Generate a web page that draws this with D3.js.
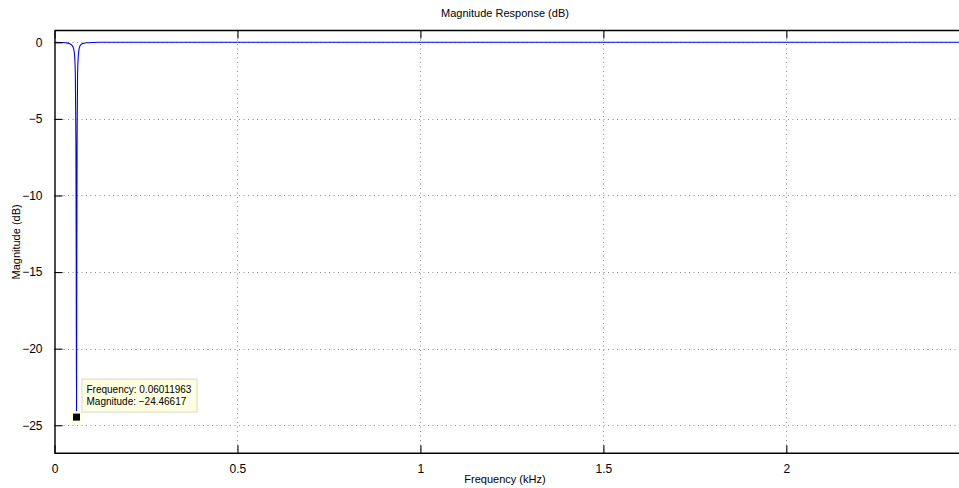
<!DOCTYPE html>
<html>
<head>
<meta charset="utf-8">
<script src="https://cdn.jsdelivr.net/npm/d3@7"></script>
<style>
  html, body { margin: 0; padding: 0; background: #fff; }
  svg { display: block; font-family: "Liberation Sans", Arial, Helvetica, sans-serif; }
</style>
</head>
<body>
<svg id="chart" width="959" height="488"></svg>
<script>
// ---- data ----
const freqKHz = [0, 0.02, 0.03, 0.04, 0.048, 0.052, 0.055, 0.057, 0.0585, 0.05935, 0.06012, 0.0609, 0.0617, 0.063, 0.065, 0.068, 0.072, 0.08, 0.09, 0.12, 0.5, 1, 1.5, 2, 2.5];
const magDB   = [0, -0.01, -0.03, -0.08, -0.2, -0.4, -0.9, -2.2, -6.5, -14, -24.46617, -14, -6.5, -2.2, -0.9, -0.35, -0.15, -0.06, -0.03, 0, 0, 0, 0, 0, 0];
const xTicks = [0, 0.5, 1, 1.5, 2];
const yTicks = [0, -5, -10, -15, -20, -25];
const tipFreq = 0.06011963;
const tipMag = -24.46617;
const tipLines = ["Frequency: 0.06011963", "Magnitude: \u221224.46617"];
const titleText = "Magnitude Response (dB)";
const xLabelText = "Frequency (kHz)";
const yLabelText = "Magnitude (dB)";

(function () {
const svg = d3.select("#chart");
const pL = 54.5, pR = 969.3, pT = 30.5, pB = 453.3;

const x = d3.scaleLinear().domain([0, 2.5]).range([pL, pR]);
const y = d3.scaleLinear().domain([-26.83, 0.77]).range([pB, pT]);

// grid
const grid = svg.append("g").attr("stroke", "#8a8a8a").attr("stroke-width", 1)
  .attr("stroke-dasharray", "1,3.5");
grid.selectAll("line.v").data(xTicks.filter(d => d > 0)).enter().append("line")
  .attr("x1", d => Math.round(x(d)) + 0.5).attr("x2", d => Math.round(x(d)) + 0.5)
  .attr("y1", pT).attr("y2", pB);
grid.selectAll("line.h").data(yTicks).enter().append("line")
  .attr("x1", pL).attr("x2", 959)
  .attr("y1", d => Math.round(y(d)) + 0.5).attr("y2", d => Math.round(y(d)) + 0.5);

// curve
const line = d3.line().x((d, i) => x(freqKHz[i])).y(d => y(d)).curve(d3.curveMonotoneX);
svg.append("path").datum(magDB)
  .attr("d", line)
  .attr("fill", "none")
  .attr("stroke", "#0000ff")
  .attr("stroke-width", 1.1);

// axes
const fmt = d => d3.format("")(d).replace("-", "\u2212");
const axB = svg.append("g").attr("transform", `translate(0,${pB})`)
  .call(d3.axisBottom(x).tickValues(xTicks).tickSizeInner(-8).tickSizeOuter(0).tickPadding(11).tickFormat(fmt));
const axT = svg.append("g").attr("transform", `translate(0,${pT})`)
  .call(d3.axisTop(x).tickValues(xTicks).tickSizeInner(-8).tickSizeOuter(0).tickFormat(""));
const axL = svg.append("g").attr("transform", `translate(${pL},0)`)
  .call(d3.axisLeft(y).tickValues(yTicks).tickSizeInner(-8).tickSizeOuter(0).tickPadding(12).tickFormat(fmt));
[axB, axT, axL].forEach(a => {
  a.select(".domain").attr("stroke", "#000").attr("stroke-width", 1.4);
  a.selectAll(".tick line").attr("stroke", "#000").attr("stroke-width", 1.1);
  a.selectAll("text").attr("fill", "#000").style("font-size", "12px")
    .style("font-family", "'Liberation Sans', Arial, Helvetica, sans-serif");
});
axB.select(".domain").attr("d", `M${pL},0H959`);
axT.select(".domain").attr("d", `M${pL},0H959`);

// titles
svg.append("text").attr("x", 505).attr("y", 17).attr("text-anchor", "middle")
  .style("font-size", "11px").text(titleText);
svg.append("text").attr("x", 505).attr("y", 483).attr("text-anchor", "middle")
  .style("font-size", "11px").text(xLabelText);
svg.append("text").attr("transform", `translate(20,${(pT + pB) / 2}) rotate(-90)`)
  .attr("text-anchor", "middle").style("font-size", "11px").text(yLabelText);

// data tip
const mx = x(tipFreq), my = y(tipMag);
svg.append("rect").attr("x", mx - 6).attr("y", my - 6).attr("width", 12).attr("height", 12)
  .attr("fill", "#ffffe0");
svg.append("rect").attr("x", mx - 3.5).attr("y", my - 3.5).attr("width", 7).attr("height", 7)
  .attr("fill", "#000");
const tip = svg.append("g").attr("transform", `translate(${mx + 5},${my - 38.5})`);
tip.append("rect").attr("x", 0.5).attr("y", 0.5).attr("width", 115).attr("height", 33)
  .attr("fill", "#ffffe1").attr("stroke", "#d8d8c8").attr("stroke-width", 1);
tip.selectAll("text").data(tipLines).enter().append("text")
  .attr("x", 5).attr("y", (d, i) => 14.5 + i * 12)
  .style("font-size", "10px").attr("fill", "#000").text(d => d);
})();
</script>
</body>
</html>
